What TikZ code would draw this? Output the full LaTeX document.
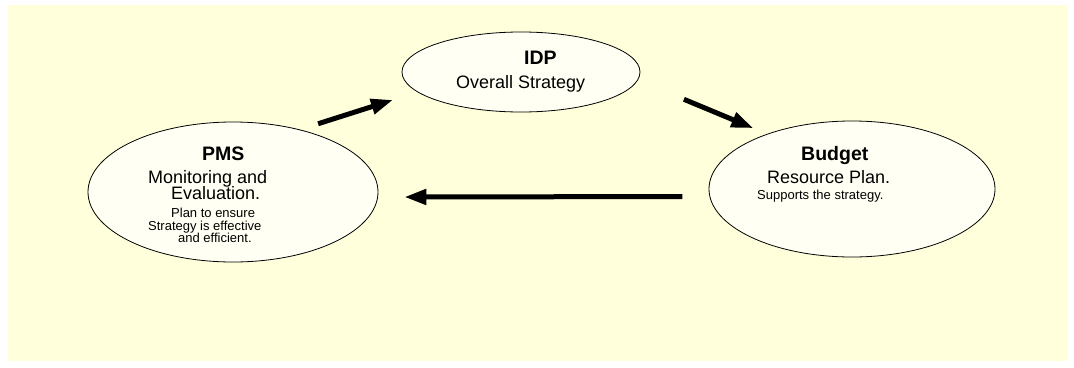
\documentclass[tikz,border=0pt]{standalone}
\usepackage{fontspec}
\setmainfont{Liberation Sans}
\usetikzlibrary{arrows.meta,shapes.geometric}
\definecolor{paper}{HTML}{FFFFDC}
\definecolor{cloud}{HTML}{FFFFF4}

\begin{document}
\begin{tikzpicture}[x=1pt,y=-1pt,
    bubble/.style={ellipse,draw=black,line width=0.8pt,fill=cloud,inner sep=0pt},
    head/.style={font=\fontsize{19.5}{20}\selectfont\bfseries,anchor=base west,inner sep=0pt},
    bigline/.style={font=\fontsize{18}{18}\selectfont,anchor=base west,inner sep=0pt},
    smallline/.style={font=\fontsize{13}{13}\selectfont,anchor=base west,inner sep=0pt},
    flow/.style={-{Triangle[length=22pt,width=15pt]},line width=5pt}]
  % page and yellow sheet, measured in pixels from the top left
  \useasboundingbox (0,0) rectangle (1074,367);
  \fill[paper] (8,5) rectangle (1068,361);

  % the three stages
  \node[bubble,minimum width=238pt,minimum height=80pt] (idp) at (521,72) {};
  \node[bubble,minimum width=290pt,minimum height=140pt] (pms) at (233,192) {};
  \node[bubble,minimum width=286pt,minimum height=136pt] (budget) at (852,189) {};

  % IDP
  \node[head] (idp-title) at (524,64) {IDP};
  \node[bigline] (idp-sub) at (456,88) {Overall Strategy};

  % PMS
  \node[head] (pms-title) at (202,160) {PMS};
  \node[bigline] (pms-sub1) at (148,183) {Monitoring and};
  \node[bigline] (pms-sub2) at (171,199) {Evaluation.};
  \node[smallline] (pms-note1) at (171,217) {Plan to ensure};
  \node[smallline] (pms-note2) at (148,230) {Strategy is effective};
  \node[smallline] (pms-note3) at (178,242) {and efficient.};

  % Budget
  \node[head] (budget-title) at (801,160) {Budget};
  \node[bigline] (budget-sub) at (767,183) {Resource Plan.};
  \node[smallline] (budget-note) at (757,199) {Supports the strategy.};

  % the cycle
  \draw[flow,shorten <=19pt,shorten >=25.7pt] (pms.43.4) -- (idp.191.2);
  \draw[flow,shorten <=49.8pt,shorten >=14.9pt] (idp.-4.3) -- (budget.147.9);
  \draw[flow,shorten <=27pt,shorten >=26.4pt] (budget.183.2) -- (pms.-2);
\end{tikzpicture}
\end{document}
